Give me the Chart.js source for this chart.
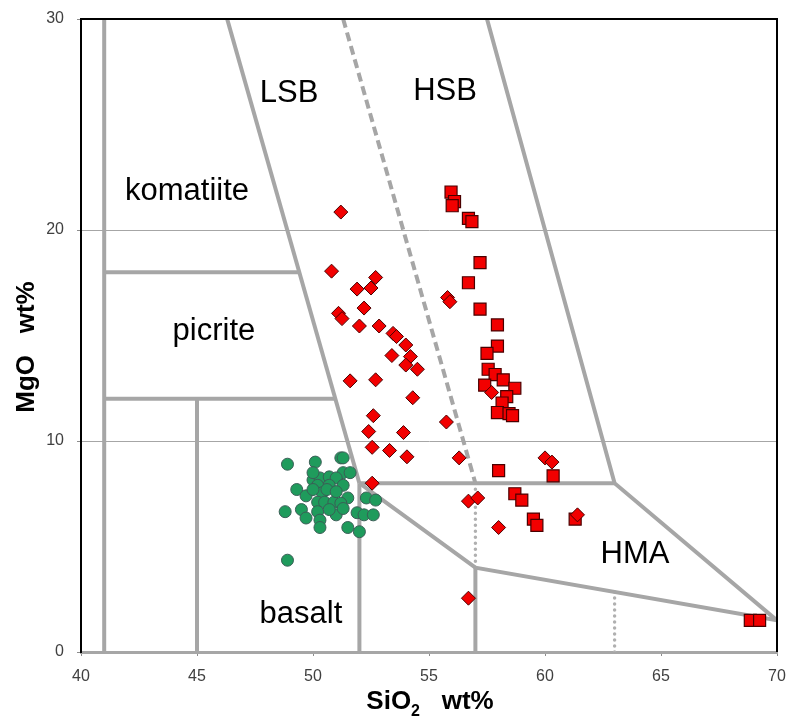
<!DOCTYPE html>
<html>
<head>
<meta charset="utf-8">
<script src="https://cdn.jsdelivr.net/npm/chart.js@4.4.0/dist/chart.umd.min.js"></script>
<style>
    html, body { margin: 0; padding: 0; background: #fff; }
    #wrap { width: 790px; height: 720px; }
</style>
</head>
<body>
<div id="wrap"><canvas id="ScatterSiO2MgO"></canvas></div>
<script>
const FONT = '"Liberation Sans", Arial, sans-serif';

const xTicks = [40, 45, 50, 55, 60, 65, 70];
const yTicks = [0, 10, 20, 30];

// green circles
const circleSiO2 = [48.9, 50.1, 51.2, 51.3, 51.3, 51.6, 49.3, 49.7, 50.0, 50.3, 50.7, 51.0, 50.2, 50.7, 51.3, 50.4, 50.2, 50.5, 50.9, 51.5, 51.2, 48.8, 49.5, 49.7, 50.2, 50.3, 50.3, 51.0, 51.3, 51.5, 52.0, 52.3, 52.7, 51.9, 52.2, 52.6, 48.9, 50.6, 50.0, 51.0, 50.7, 50.0];
const circleMgO  = [8.9, 9.0, 9.2, 9.2, 8.5, 8.5, 7.7, 7.4, 8.15, 8.25, 8.3, 8.25, 7.9, 7.9, 7.9, 7.55, 7.1, 7.1, 7.1, 7.3, 7.05, 6.65, 6.75, 6.35, 6.65, 6.25, 5.9, 6.5, 6.8, 5.9, 5.7, 7.3, 7.2, 6.6, 6.5, 6.5, 4.35, 7.7, 7.7, 7.6, 6.75, 8.5];

// red diamonds
const diamondSiO2 = [51.2, 50.8, 51.9, 52.5, 52.7, 52.2, 51.1, 51.25, 52.0, 52.85, 53.45, 53.6, 54.0, 53.4, 54.2, 54.0, 54.5, 51.6, 52.7, 54.3, 52.6, 55.75, 52.4, 53.9, 52.55, 53.3, 54.05, 56.3, 60.0, 60.3, 55.8, 55.9, 57.7, 52.55, 56.7, 57.1, 58.0, 61.4, 56.7];
const diamondMgO  = [20.85, 18.05, 17.2, 17.25, 17.75, 16.3, 16.05, 15.8, 15.45, 15.45, 15.1, 14.95, 14.55, 14.05, 14.0, 13.6, 13.4, 12.85, 12.9, 12.05, 11.2, 10.9, 10.45, 10.4, 9.7, 9.55, 9.25, 9.2, 9.2, 9.0, 16.8, 16.6, 12.3, 8.0, 7.15, 7.3, 5.9, 6.5, 2.55];

// red squares
const squareSiO2 = [55.95, 56.1, 56.0, 56.7, 56.85, 57.2, 56.7, 57.2, 57.95, 57.95, 57.5, 57.55, 57.85, 58.2, 57.4, 58.7, 58.35, 58.15, 57.95, 58.45, 58.6, 58.0, 60.35, 58.7, 59.0, 59.5, 59.65, 61.3, 68.85, 69.25];
const squareMgO  = [21.8, 21.35, 21.15, 20.55, 20.4, 18.45, 17.5, 16.25, 15.5, 14.5, 14.15, 13.4, 13.15, 12.9, 12.65, 12.5, 12.1, 11.8, 11.35, 11.3, 11.2, 8.6, 8.35, 7.5, 7.2, 6.3, 6.0, 6.3, 1.5, 1.5];

// field boundaries [SiO2, MgO]
const solidLines = [
    [[41, 0], [41, 30]],
    [[41, 18], [49.4, 18]],
    [[41, 12], [50.95, 12]],
    [[45, 0], [45, 12]],
    [[46.3, 30], [52, 8]],
    [[52, 0], [52, 8]],
    [[52, 8], [63, 8]],
    [[57.5, 30], [63, 8], [70, 1.5]],
    [[52, 8], [57, 4], [70, 1.5]],
    [[57, 0], [57, 4]],
];
const dashedLines = [
    [[51.3, 30], [57, 8]],
];
const dottedLines = [
    [[57, 8], [57, 4]],
    [[63, 0], [63, 2.85]],
];

// field names [text, SiO2, MgO] (baseline position)
const fieldLabels = [
    ['LSB', 48.97, 26.07],
    ['HSB', 55.69, 26.16],
    ['komatiite', 44.57, 21.42],
    ['picrite', 45.73, 14.79],
    ['basalt', 49.48, 1.37],
    ['HMA', 63.88, 4.22],
];

const toPoints = (xs, ys) => xs.map((x, i) => ({x: x, y: ys[i]}));
const toXY = line => line.map(p => ({x: p[0], y: p[1]}));

let lineSets = [];
solidLines.forEach(l => lineSets.push({
    data: toXY(l), showLine: true, pointRadius: 0, borderColor: '#a6a6a6', borderWidth: 4, order: 5,
}));
dashedLines.forEach(l => lineSets.push({
    data: toXY(l), showLine: true, pointRadius: 0, borderColor: '#a6a6a6', borderWidth: 4, borderDash: [9, 5], order: 5,
}));
dottedLines.forEach(l => lineSets.push({
    data: toXY(l), showLine: true, pointRadius: 0, borderColor: '#b0b0b0', borderWidth: 3.5,
    borderDash: [0, 6], borderCapStyle: 'round', order: 5,
}));

const frameAndText = {
    id: 'frameAndText',
    afterDraw(chart) {
        const ctx = chart.ctx;
        const a = chart.chartArea;
        const xs = chart.scales.x, ys = chart.scales.y;
        ctx.save();
        // top and right frame
        ctx.strokeStyle = '#000';
        ctx.lineWidth = 2;
        ctx.beginPath();
        ctx.moveTo(a.left, a.top);
        ctx.lineTo(a.right, a.top);
        ctx.lineTo(a.right, a.bottom);
        ctx.stroke();

        // field names
        ctx.fillStyle = '#000';
        ctx.font = '31px ' + FONT;
        ctx.textAlign = 'center';
        ctx.textBaseline = 'alphabetic';
        fieldLabels.forEach(f => {
            ctx.fillText(f[0], xs.getPixelForValue(f[1]), ys.getPixelForValue(f[2]));
        });

        // x axis title with subscript
        ctx.textAlign = 'left';
        const big = 'bold 26px ' + FONT, small = 'bold 16px ' + FONT;
        ctx.font = big;
        const w1 = ctx.measureText('SiO').width;
        const w3 = ctx.measureText('   wt%').width;
        ctx.font = small;
        const w2 = ctx.measureText('2').width;
        let x0 = 430 - (w1 + w2 + w3) / 2;
        ctx.font = big;
        ctx.fillText('SiO', x0, 709);
        ctx.font = small;
        ctx.fillText('2', x0 + w1, 716);
        ctx.font = big;
        ctx.fillText('   wt%', x0 + w1 + w2, 709);

        // y axis title
        ctx.translate(34, 347);
        ctx.rotate(-Math.PI / 2);
        ctx.textAlign = 'center';
        ctx.fillText('MgO   wt%', 0, 0);
        ctx.restore();
    }
};

let ScatterSiO2MgO = new Chart(
    document.getElementById('ScatterSiO2MgO'), {
        type: 'scatter',
        plugins: [frameAndText],
        data: {
            datasets: [
                ...lineSets,
                {
                    label: 'circles',
                    data: toPoints(circleSiO2, circleMgO),
                    pointStyle: 'circle',
                    pointRadius: 6,
                    backgroundColor: '#1f9b5c',
                    borderColor: '#3a5e56',
                    borderWidth: 1,
                    order: 1,
                },
                {
                    label: 'diamonds',
                    data: toPoints(diamondSiO2, diamondMgO),
                    pointStyle: 'rectRot',
                    pointRadius: 7,
                    backgroundColor: '#f20000',
                    borderColor: '#4a0000',
                    borderWidth: 1,
                    order: 1,
                },
                {
                    label: 'squares',
                    data: toPoints(squareSiO2, squareMgO),
                    pointStyle: 'rect',
                    pointRadius: 8.5,
                    backgroundColor: '#f20000',
                    borderColor: '#4a0000',
                    borderWidth: 1.2,
                    order: 1,
                },
            ]
        },
        options: {
            responsive: true,
            maintainAspectRatio: false,
            animation: false,
            layout: { padding: { top: 19, right: 13, left: 0, bottom: 0 } },
            plugins: {
                legend: { display: false },
                tooltip: { enabled: false },
            },
            scales: {
                x: {
                    type: 'linear',
                    min: 40,
                    max: 70,
                    afterBuildTicks: s => { s.ticks = xTicks.map(v => ({value: v})); },
                    afterFit: s => { s.height = 68; s.paddingLeft = 0; s.paddingRight = 0; },
                    grid: { drawOnChartArea: false, tickLength: 4, tickColor: '#8c8c8c' },
                    border: { color: '#a6a6a6', width: 3 },
                    ticks: { font: { family: FONT, size: 16 }, color: '#404040', padding: 11, maxRotation: 0 },
                },
                y: {
                    type: 'linear',
                    min: 0,
                    max: 30,
                    afterBuildTicks: s => { s.ticks = yTicks.map(v => ({value: v})); },
                    afterFit: s => { s.width = 81; s.paddingTop = 0; s.paddingBottom = 0; },
                    grid: {
                        color: ctx => (ctx.tick.value === 10 || ctx.tick.value === 20) ? '#a6a6a6' : 'rgba(0,0,0,0)',
                        lineWidth: 1,
                        tickLength: 4,
                        tickColor: '#8c8c8c',
                    },
                    border: { color: '#000', width: 2 },
                    ticks: { font: { family: FONT, size: 16 }, color: '#404040', padding: 13 },
                },
            },
        },
    }
);
</script>
</body>
</html>
